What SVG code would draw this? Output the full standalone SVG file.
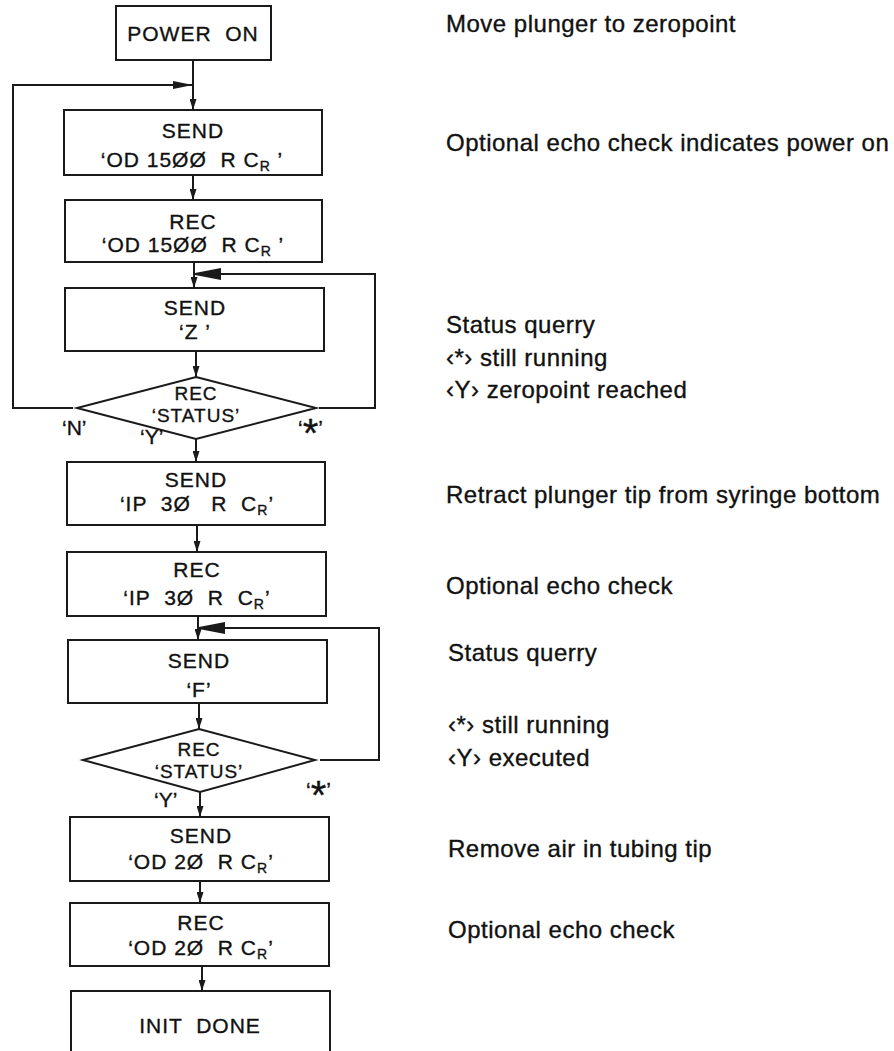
<svg xmlns="http://www.w3.org/2000/svg" width="894" height="1051" viewBox="0 0 894 1051">
<style>
.box{fill:#fff;stroke:#1a1a1a;stroke-width:2}
.c{fill:none;stroke:#1a1a1a;stroke-width:2}
.t{font-family:"Liberation Sans",Arial,sans-serif;font-size:21px;fill:#111;stroke:#111;stroke-width:0.35px;text-anchor:middle;letter-spacing:1px}
.d{font-size:19px}
.n{font-family:"Liberation Sans",Arial,sans-serif;font-size:24px;fill:#111;stroke:#111;stroke-width:0.35px;letter-spacing:0.5px}
.lbl{font-family:"Liberation Sans",Arial,sans-serif;font-size:21px;fill:#111;stroke:#111;stroke-width:0.35px}
.sub{font-size:14px}
.ast{font-size:40px}
</style>
<defs>
<marker id="a" markerUnits="userSpaceOnUse" markerWidth="12" markerHeight="7" refX="11" refY="3.5" orient="auto"><path d="M0,0 L11,3.5 L0,7 z" fill="#1a1a1a"/></marker>
<marker id="m" markerUnits="userSpaceOnUse" markerWidth="21" markerHeight="8" refX="20" refY="4" orient="auto"><path d="M0,0 L20,4 L0,8 z" fill="#1a1a1a"/></marker>
<marker id="b" markerUnits="userSpaceOnUse" markerWidth="27" markerHeight="12" refX="26" refY="6" orient="auto"><path d="M0,0 L26,5 L26,7 L0,12 z" fill="#1a1a1a"/></marker>
</defs>
<g id="connectors">
<line class="c" x1="193" y1="60" x2="193" y2="110" marker-end="url(#a)"/>
<polyline class="c" points="73,408 13,408 13,85 193,85" marker-end="url(#m)"/>
<line class="c" x1="193" y1="175" x2="193" y2="200" marker-end="url(#a)"/>
<line class="c" x1="194" y1="262" x2="194" y2="288" marker-end="url(#a)"/>
<polyline class="c" points="319,408 375,408 375,274 195,274" marker-end="url(#b)"/>
<line class="c" x1="196" y1="351" x2="196" y2="377" marker-end="url(#a)"/>
<line class="c" x1="196" y1="439" x2="196" y2="462" marker-end="url(#a)"/>
<line class="c" x1="197" y1="525" x2="197" y2="552" marker-end="url(#a)"/>
<line class="c" x1="198" y1="616" x2="198" y2="640" marker-end="url(#a)"/>
<polyline class="c" points="320,760 379,760 379,628 199,628" marker-end="url(#b)"/>
<line class="c" x1="199" y1="703" x2="199" y2="729" marker-end="url(#a)"/>
<line class="c" x1="200" y1="792" x2="200" y2="817" marker-end="url(#a)"/>
<line class="c" x1="200" y1="881" x2="200" y2="903" marker-end="url(#a)"/>
<line class="c" x1="202" y1="966" x2="202" y2="991" marker-end="url(#a)"/>
</g>
<g id="power-on">
<rect class="box" x="116" y="6" width="155" height="54"/>
<text class="t" x="193" y="41" xml:space="preserve">POWER  ON</text>
</g>
<g id="send-od1500">
<rect class="box" x="64" y="110" width="258" height="65"/>
<text class="t" x="193" y="138">SEND</text>
<text class="t" x="192" y="167" xml:space="preserve">‘OD 15ØØ  R C<tspan class="sub" dy="4">R</tspan><tspan dy="-4"> ’</tspan></text>
</g>
<g id="rec-od1500">
<rect class="box" x="65" y="200" width="257" height="62"/>
<text class="t" x="193" y="229">REC</text>
<text class="t" x="193" y="252" xml:space="preserve">‘OD 15ØØ  R C<tspan class="sub" dy="4">R</tspan><tspan dy="-4"> ’</tspan></text>
</g>
<g id="send-z">
<rect class="box" x="65" y="288" width="259" height="63"/>
<text class="t" x="195" y="315">SEND</text>
<text class="t" x="195" y="339">‘Z ’</text>
</g>
<g id="rec-status-1">
<polygon class="box" points="196,377 316,408 196,439 77,408"/>
<text class="t d" x="196" y="400">REC</text>
<text class="t d" x="196" y="422">‘STATUS’</text>
<text class="lbl" x="62" y="435">‘N’</text>
<text class="lbl" x="140" y="444">‘Y’</text>
<text class="lbl" x="298" y="435">‘<tspan class="ast" dy="12">*</tspan><tspan dy="-12">’</tspan></text>
</g>
<g id="send-ip30">
<rect class="box" x="67" y="462" width="258" height="63"/>
<text class="t" x="196" y="487">SEND</text>
<text class="t" x="197" y="511" xml:space="preserve">‘IP  3Ø   R  C<tspan class="sub" dy="4">R</tspan><tspan dy="-4">’</tspan></text>
</g>
<g id="rec-ip30">
<rect class="box" x="67" y="552" width="259" height="64"/>
<text class="t" x="197" y="577">REC</text>
<text class="t" x="197" y="605" xml:space="preserve">‘IP  3Ø  R  C<tspan class="sub" dy="4">R</tspan><tspan dy="-4">’</tspan></text>
</g>
<g id="send-f">
<rect class="box" x="68" y="640" width="259" height="63"/>
<text class="t" x="199" y="668">SEND</text>
<text class="t" x="199" y="697">‘F’</text>
</g>
<g id="rec-status-2">
<polygon class="box" points="199,729 315,760 200,792 83,760"/>
<text class="t d" x="199" y="756">REC</text>
<text class="t d" x="199" y="778">‘STATUS’</text>
<text class="lbl" x="154" y="807">‘Y’</text>
<text class="lbl" x="306" y="797">‘<tspan class="ast" dy="12">*</tspan><tspan dy="-12">’</tspan></text>
</g>
<g id="send-od20">
<rect class="box" x="70" y="817" width="259" height="64"/>
<text class="t" x="201" y="843">SEND</text>
<text class="t" x="201" y="869" xml:space="preserve">‘OD 2Ø  R C<tspan class="sub" dy="4">R</tspan><tspan dy="-4">’</tspan></text>
</g>
<g id="rec-od20">
<rect class="box" x="70" y="903" width="259" height="63"/>
<text class="t" x="201" y="930">REC</text>
<text class="t" x="201" y="955" xml:space="preserve">‘OD 2Ø  R C<tspan class="sub" dy="4">R</tspan><tspan dy="-4">’</tspan></text>
</g>
<g id="init-done">
<rect class="box" x="71" y="991" width="259" height="70"/>
<text class="t" x="200" y="1033" xml:space="preserve">INIT  DONE</text>
</g>
<g id="notes">
<text class="n" x="446" y="32">Move plunger to zeropoint</text>
<text class="n" x="446" y="151">Optional echo check indicates power on</text>
<text class="n" x="446" y="333">Status querry</text>
<text class="n" x="446" y="366">‹*› still running</text>
<text class="n" x="446" y="398">‹Y› zeropoint reached</text>
<text class="n" x="446" y="503">Retract plunger tip from syringe bottom</text>
<text class="n" x="446" y="594">Optional echo check</text>
<text class="n" x="448" y="661">Status querry</text>
<text class="n" x="448" y="733">‹*› still running</text>
<text class="n" x="448" y="766">‹Y› executed</text>
<text class="n" x="448" y="857">Remove air in tubing tip</text>
<text class="n" x="448" y="938">Optional echo check</text>
</g>
</svg>
